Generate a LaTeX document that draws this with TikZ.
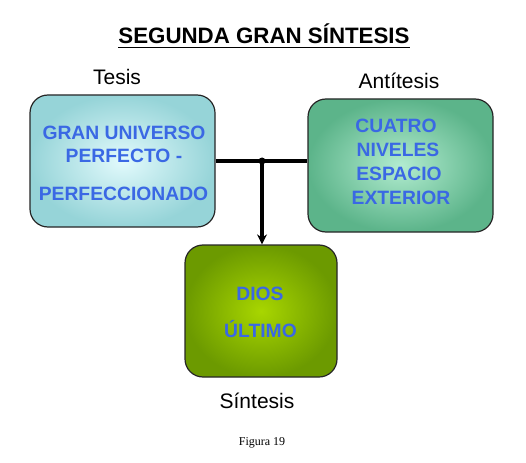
\documentclass[tikz,border=0pt]{standalone}
\usepackage{fontspec}
\setmainfont{Liberation Sans}
\newfontfamily\figfont{Liberation Serif}
\usetikzlibrary{arrows.meta}
\definecolor{txtblue}{RGB}{58,104,228}
\definecolor{tesisin}{RGB}{226,250,252}
\definecolor{tesisout}{RGB}{150,212,216}
\definecolor{antiin}{RGB}{178,236,208}
\definecolor{antiout}{RGB}{92,180,138}
\definecolor{sinin}{RGB}{168,214,0}
\definecolor{sinout}{RGB}{108,154,0}
\tikzset{
  box/.style={draw=black!85, line width=1.2pt, rounded corners=18pt},
  boxtext/.style={text=txtblue, font=\fontsize{19.3}{24}\selectfont\bfseries, anchor=base, inner sep=0pt},
  lbl/.style={font=\fontsize{21}{24}\selectfont, inner sep=0pt},
  conn/.style={line width=3.4pt, black}
}
\begin{document}
\begin{tikzpicture}[x=1pt,y=-1pt]
\useasboundingbox (0,0) rectangle (526,462);
% title
\node[font=\fontsize{22.3}{26}\selectfont\bfseries, inner sep=0pt, anchor=base] (title) at (264,44) {SEGUNDA GRAN SÍNTESIS};
\draw[line width=1.3pt] (title.base west) ++(0,3.5) coordinate (ul1) -- (ul1 -| title.base east);
% labels
\node[lbl] (ltesis) at (117,77) {Tesis};
\node[lbl] (lanti) at (399,81) {Antítesis};
\node[lbl] (lsin) at (257,401) {Síntesis};
\node[font=\fontsize{12}{14}\selectfont\figfont, inner sep=0pt] (fig) at (262,443) {Figura 19};
% boxes
\node[box, minimum width=185pt, minimum height=132pt, inner color=tesisin, outer color=tesisout] (tesis) at (122.5,161) {};
\node[box, minimum width=185pt, minimum height=133pt, inner color=antiin, outer color=antiout] (anti) at (400.5,165.5) {};
\node[box, minimum width=152pt, minimum height=132pt, inner color=sinin, outer color=sinout] (sin) at (261,311) {};
% box texts
\node[boxtext] (t1) at (124,140) {GRAN UNIVERSO};
\node[boxtext] (t2) at (124,163) {PERFECTO -};
\node[boxtext] (t3) at (123.5,200) {PERFECCIONADO};
\node[boxtext] (a1) at (396,133) {CUATRO};
\node[boxtext] (a2) at (398,157) {NIVELES};
\node[boxtext] (a3) at (399,180) {ESPACIO};
\node[boxtext] (a4) at (401,204) {EXTERIOR};
\node[boxtext] (s1) at (260,300) {DIOS};
\node[boxtext] (s2) at (260.5,337) {ÚLTIMO};
% connectors
\coordinate (j) at (262,161);
\draw[conn] (tesis.east |- j) -- (j -| anti.west);
\draw[conn, -{Stealth[length=10pt,width=10pt]}] (j) -- (j |- sin.north);
\fill (j) circle (3.5pt);
\end{tikzpicture}
\end{document}
